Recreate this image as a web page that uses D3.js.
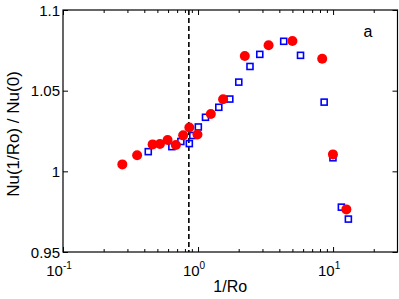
<!DOCTYPE html>
<html>
<head>
<meta charset="utf-8">
<script src="https://cdn.jsdelivr.net/npm/d3@7"></script>
<style>
  body { margin: 0; background: #fff; }
  svg { display: block; font-family: "Liberation Sans", Arial, sans-serif; }
  .domain { display: none; }
</style>
</head>
<body>
<svg id="chart" width="399" height="299"></svg>
<script>
// data
const redX = [0.275, 0.354, 0.461, 0.522, 0.595, 0.685, 0.776, 0.862, 0.99, 1.244, 1.533, 2.22, 3.33, 5.0, 8.31, 9.98, 12.54];
const redY = [1.0043, 1.010, 1.0167, 1.0169, 1.0194, 1.0163, 1.0223, 1.0272, 1.0228, 1.0355, 1.0447, 1.0715, 1.0781, 1.0808, 1.0698, 1.0105, 0.9764];
const blueX = [0.428, 0.640, 0.746, 0.862, 0.915, 1.005, 1.136, 1.425, 1.719, 2.003, 2.425, 2.866, 4.31, 5.74, 8.59, 9.98, 11.52, 12.98];
const blueY = [1.0122, 1.0153, 1.0185, 1.0172, 1.0222, 1.0275, 1.0335, 1.0397, 1.0448, 1.0553, 1.065, 1.0725, 1.0806, 1.0719, 1.0429, 1.0084, 0.9778, 0.9704];
const critical = 0.855;
const xMajor = [0.1, 1, 10];
const xMinor = [0.2, 0.3, 0.4, 0.5, 0.6, 0.7, 0.8, 0.9, 2, 3, 4, 5, 6, 7, 8, 9, 20];
const xExp = ["-1", "0", "1"];
const yTicks = [0.95, 1, 1.05, 1.1];
const yLabels = ["0.95", "1", "1.05", "1.1"];

const svg = d3.select('#chart');
const L = 63, R = 397.5, T = 10, B = 252;

const x = d3.scaleLog().domain([0.1, 30]).range([L, R]);
const y = d3.scaleLinear().domain([0.95, 1.1]).range([B, T]);

// ticks, matlab style (inward, all four sides)
const tk = (ax, vals, size) => ax.tickValues(vals).tickSize(size).tickFormat('');
svg.append('g').attr('transform', `translate(0,${B})`).call(tk(d3.axisBottom(x), xMajor, -5));
svg.append('g').attr('transform', `translate(0,${B})`).call(tk(d3.axisBottom(x), xMinor, -3));
svg.append('g').attr('transform', `translate(0,${T})`).call(tk(d3.axisTop(x), xMajor, -5));
svg.append('g').attr('transform', `translate(0,${T})`).call(tk(d3.axisTop(x), xMinor, -3));
svg.append('g').attr('transform', `translate(${L},0)`).call(tk(d3.axisLeft(y), yTicks, -5));
svg.append('g').attr('transform', `translate(${R},0)`).call(tk(d3.axisRight(y), yTicks, -5));
svg.selectAll('.tick line').attr('stroke', '#000').attr('stroke-width', 1);

svg.append('rect').attr('x', L).attr('y', T).attr('width', R - L).attr('height', B - T)
    .attr('fill', 'none').attr('stroke', '#000').attr('stroke-width', 1.2);

// tick labels
svg.selectAll('.ylab').data(yTicks).enter().append('text')
    .attr('x', L - 3).attr('y', d => y(d) + 5.5)
    .attr('text-anchor', 'end').attr('font-size', 15).text((d, i) => yLabels[i]);

const xl = svg.selectAll('.xlab').data(xMajor).enter().append('text')
    .attr('x', d => x(d) - 4).attr('y', B + 24)
    .attr('text-anchor', 'middle').attr('font-size', 15);
xl.append('tspan').text('10');
xl.append('tspan').attr('dy', -7).attr('font-size', 10).text((d, i) => xExp[i]);

// dashed critical line
svg.append('line').attr('x1', x(critical)).attr('x2', x(critical))
    .attr('y1', T).attr('y2', B)
    .attr('stroke', '#000').attr('stroke-width', 1.6).attr('stroke-dasharray', '5,3');

// series
svg.selectAll('.sq').data(blueX).enter().append('rect')
    .attr('x', d => x(d) - 3).attr('y', (d, i) => y(blueY[i]) - 3)
    .attr('width', 6).attr('height', 6)
    .attr('fill', 'none').attr('stroke', '#0000ff').attr('stroke-width', 1.6);

svg.selectAll('.dot').data(redX).enter().append('circle')
    .attr('cx', d => x(d)).attr('cy', (d, i) => y(redY[i]))
    .attr('r', 5).attr('fill', '#ff0000');

// labels
svg.append('text').attr('x', (L + R) / 2).attr('y', 292)
    .attr('text-anchor', 'middle').attr('font-size', 16).text('1/Ro');
svg.append('text').attr('transform', `translate(19,134) rotate(-90)`)
    .attr('text-anchor', 'middle').attr('font-size', 17).text('Nu(1/Ro) / Nu(0)');
svg.append('text').attr('x', 368).attr('y', 37)
    .attr('text-anchor', 'middle').attr('font-size', 16).text('a');
</script>
</body>
</html>
